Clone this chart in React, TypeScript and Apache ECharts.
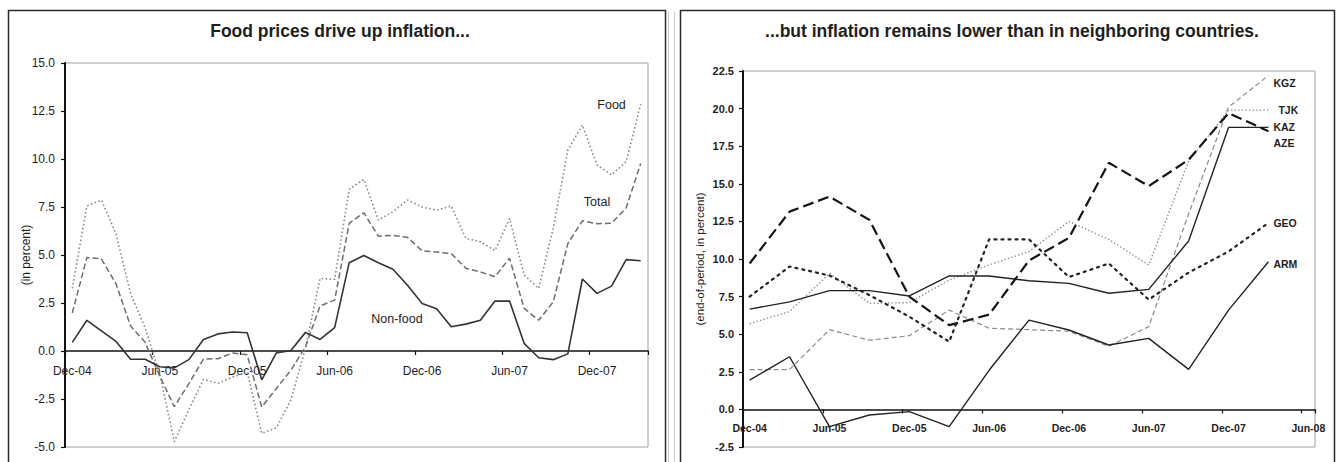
import React, { useEffect, useRef } from "react";
import * as echarts from "echarts";

// ---------- data ----------
const MONTH_NAMES = ["Jan", "Feb", "Mar", "Apr", "May", "Jun", "Jul", "Aug", "Sep", "Oct", "Nov", "Dec"];
function monthLabels(count: number): string[] {
  const out: string[] = [];
  for (let i = 0; i < count; i++) {
    const m = (11 + i) % 12;
    const y = 2004 + Math.floor((11 + i) / 12);
    out.push(`${MONTH_NAMES[m]}-${String(y % 100).padStart(2, "0")}`);
  }
  return out;
}

// Left panel: monthly, Dec-04 .. Mar-08
const leftMonths = monthLabels(40);
const food = [3.26, 7.55, 7.86, 6.1, 3.0, 1.2, -1.2, -4.72, -3.05, -1.48, -1.68, -1.36, -1.1, -4.29, -4.0, -2.55, 0.15, 3.78, 3.73, 8.42, 8.94, 6.82, 7.26, 7.86, 7.5, 7.34, 7.55, 5.87, 5.69, 5.23, 6.9, 3.96, 3.26, 6.4, 10.47, 11.77, 9.69, 9.17, 9.86, 12.86];
const total = [1.98, 4.87, 4.8, 3.5, 1.3, 0.45, -1.3, -2.9, -1.7, -0.42, -0.4, -0.1, -0.2, -2.92, -1.95, -1.0, 0.22, 2.35, 2.65, 6.65, 7.2, 5.98, 6.02, 5.92, 5.22, 5.15, 5.08, 4.31, 4.12, 3.87, 4.83, 2.22, 1.6, 2.56, 5.6, 6.78, 6.63, 6.65, 7.45, 9.77];
const nonFood = [0.45, 1.6, 1.05, 0.5, -0.43, -0.43, -0.82, -0.88, -0.45, 0.6, 0.89, 0.99, 0.95, -1.5, -0.1, 0.03, 0.97, 0.6, 1.22, 4.6, 4.97, 4.6, 4.26, 3.42, 2.48, 2.2, 1.26, 1.4, 1.6, 2.6, 2.6, 0.4, -0.35, -0.45, -0.15, 3.75, 3.0, 3.38, 4.76, 4.7];
const leftTicks = [-5, -2.5, 0, 2.5, 5, 7.5, 10, 12.5, 15];

// Right panel: monthly axis Dec-04 .. Jun-08, quarterly observations
const rightMonths = monthLabels(43);
const quarters = ["Dec-04", "Mar-05", "Jun-05", "Sep-05", "Dec-05", "Mar-06", "Jun-06", "Sep-06", "Dec-06", "Mar-07", "Jun-07", "Sep-07", "Dec-07", "Mar-08"];
const kgz = [2.65, 2.65, 5.3, 4.6, 4.9, 6.6, 5.4, 5.3, 5.2, 4.2, 5.5, 13.0, 20.1, 22.2];
const tjk = [5.7, 6.5, 9.05, 7.05, 7.1, 8.6, 9.6, 10.5, 12.5, 11.3, 9.6, 16.5, 19.9, 19.9];
const kaz = [6.67, 7.15, 7.9, 7.9, 7.54, 8.87, 8.87, 8.55, 8.38, 7.72, 7.98, 11.2, 18.75, 18.75];
const aze = [9.7, 13.15, 14.15, 12.6, 7.5, 5.6, 6.3, 9.9, 11.4, 16.4, 14.85, 16.6, 19.7, 18.5];
const geo = [7.5, 9.5, 8.9, 7.6, 6.17, 4.5, 11.3, 11.3, 8.8, 9.7, 7.3, 9.1, 10.5, 12.4];
const arm = [1.95, 3.5, -1.15, -0.37, -0.15, -1.15, 2.6, 5.94, 5.28, 4.28, 4.72, 2.66, 6.6, 9.82];
const rightTicks = [-2.5, 0, 2.5, 5, 7.5, 10, 12.5, 15, 17.5, 20, 22.5];

// label anchor values (data space)
const leftLabels = [
  { name: "Food", at: "Jan-08", value: 12.8 },
  { name: "Total", at: "Dec-07", value: 7.76 },
  { name: "Non-food", at: "Oct-06", value: 1.67 },
];
const rightLabels = [
  { name: "KGZ", value: 21.72 },
  { name: "TJK", value: 19.9 },
  { name: "KAZ", value: 18.78 },
  { name: "AZE", value: 17.71 },
  { name: "GEO", value: 12.41 },
  { name: "ARM", value: 9.67 },
];

const FONT = "'Liberation Sans', Arial, Helvetica, sans-serif";
const INK = "#1e1e1e";

const LEFT_GRID = { left: 65, top: 63, width: 583, height: 384 };
const RIGHT_GRID = { left: 743, top: 71, width: 572, height: 376 };

function pairs(vals: number[]) {
  return quarters.map((q, i) => [q, vals[i]]);
}

// distance (px) from the bottom of a grid up to the value 0
function zeroOffset(ticks: number[], height: number) {
  const min = ticks[0];
  const max = ticks[ticks.length - 1];
  return ((0 - min) / (max - min)) * height;
}

function markLabel(name: string, at: string, value: number, opts: any) {
  return {
    coord: [at, value],
    symbol: "circle",
    symbolSize: 0,
    itemStyle: { color: "transparent" },
    label: {
      show: true,
      formatter: name,
      color: INK,
      fontFamily: FONT,
      ...opts,
    },
  };
}

export default function App() {
  const ref = useRef<HTMLDivElement>(null);

  useEffect(() => {
    document.body.style.margin = "0";
    if (!ref.current) return;
    const chart = echarts.init(ref.current, undefined, { renderer: "svg" });

    const leftX = {
      gridIndex: 0,
      type: "category",
      data: leftMonths,
      boundaryGap: true,
      offset: -zeroOffset(leftTicks, LEFT_GRID.height),
      axisLine: { onZero: false, lineStyle: { color: "#111", width: 1.5 } },
      axisTick: { show: true, interval: 5, length: 4, lineStyle: { color: "#111", width: 1.2 } },
      axisLabel: { interval: 5, margin: 14, fontSize: 12, color: INK, fontFamily: FONT },
      splitLine: { show: false },
    };
    const rightX = {
      gridIndex: 1,
      type: "category",
      data: rightMonths,
      boundaryGap: true,
      offset: -zeroOffset(rightTicks, RIGHT_GRID.height),
      axisLine: { onZero: false, lineStyle: { color: "#111", width: 1.5 } },
      axisTick: { show: true, interval: 5, length: 4, lineStyle: { color: "#111", width: 1.2 } },
      axisLabel: { interval: 5, margin: 13, fontSize: 10.5, fontWeight: "bold", color: INK, fontFamily: FONT },
      splitLine: { show: false },
    };
    const leftY = {
      gridIndex: 0,
      type: "value",
      min: leftTicks[0],
      max: leftTicks[leftTicks.length - 1],
      interval: 2.5,
      name: "(in percent)",
      nameLocation: "middle",
      nameGap: 33,
      nameMoveOverlap: false,
      nameTextStyle: { fontSize: 12, color: INK, fontFamily: FONT },
      axisLine: { show: true, lineStyle: { color: "#111", width: 2 } },
      axisTick: { show: true, length: 4, lineStyle: { color: "#111", width: 1.2 } },
      axisLabel: { margin: 10, fontSize: 12, color: INK, fontFamily: FONT, formatter: (v: number) => v.toFixed(1) },
      splitLine: { show: false },
    };
    const rightY = {
      gridIndex: 1,
      type: "value",
      min: rightTicks[0],
      max: rightTicks[rightTicks.length - 1],
      interval: 2.5,
      name: "(end-of-period, in percent)",
      nameLocation: "middle",
      nameGap: 37,
      nameMoveOverlap: false,
      nameTextStyle: { fontSize: 11.5, color: INK, fontFamily: FONT },
      axisLine: { show: true, lineStyle: { color: "#111", width: 2 } },
      axisTick: { show: true, length: 4, lineStyle: { color: "#111", width: 1.2 } },
      axisLabel: { margin: 9, fontSize: 11, fontWeight: "bold", color: INK, fontFamily: FONT, formatter: (v: number) => v.toFixed(1) },
      splitLine: { show: false },
    };

    const base = { type: "line", showSymbol: false, symbol: "none", silent: true, z: 3 };

    const option: any = {
      animation: false,
      backgroundColor: "#ffffff",
      title: [
        {
          text: "Food prices drive up inflation...",
          left: 340,
          top: 22,
          textAlign: "center",
          padding: 0,
          textStyle: { fontSize: 17.5, fontWeight: "bold", color: INK, fontFamily: FONT },
        },
        {
          text: "...but inflation remains lower than in neighboring countries.",
          left: 1012,
          top: 22,
          textAlign: "center",
          padding: 0,
          textStyle: { fontSize: 17.5, fontWeight: "bold", color: INK, fontFamily: FONT },
        },
      ],
      grid: [
        { ...LEFT_GRID, show: true, borderColor: "#a0a0a0", borderWidth: 1, backgroundColor: "transparent", outerBoundsMode: "none", containLabel: false },
        { ...RIGHT_GRID, show: true, borderColor: "#a0a0a0", borderWidth: 1, backgroundColor: "transparent", outerBoundsMode: "none", containLabel: false },
      ],
      xAxis: [leftX, rightX],
      yAxis: [leftY, rightY],
      series: [
        {
          ...base,
          name: "Food",
          xAxisIndex: 0,
          yAxisIndex: 0,
          data: food,
          lineStyle: { color: "#8a8a8a", width: 1.6, type: [1.6, 2.4] },
          markPoint: {
            silent: true,
            data: [markLabel(leftLabels[0].name, leftLabels[0].at, leftLabels[0].value, { position: "inside", fontSize: 12.5 })],
          },
        },
        {
          ...base,
          name: "Total",
          xAxisIndex: 0,
          yAxisIndex: 0,
          data: total,
          lineStyle: { color: "#6e6e6e", width: 1.5, type: [6, 3] },
          markPoint: {
            silent: true,
            data: [markLabel(leftLabels[1].name, leftLabels[1].at, leftLabels[1].value, { position: "inside", fontSize: 12.5 })],
          },
        },
        {
          ...base,
          name: "Non-food",
          xAxisIndex: 0,
          yAxisIndex: 0,
          data: nonFood,
          lineStyle: { color: "#333333", width: 1.6 },
          markPoint: {
            silent: true,
            data: [markLabel(leftLabels[2].name, leftLabels[2].at, leftLabels[2].value, { position: "inside", fontSize: 12.5, offset: [4, 0] })],
          },
        },
        {
          ...base,
          name: "KGZ",
          xAxisIndex: 1,
          yAxisIndex: 1,
          data: pairs(kgz),
          lineStyle: { color: "#8a8a8a", width: 1.2, type: [5, 3] },
        },
        {
          ...base,
          name: "TJK",
          xAxisIndex: 1,
          yAxisIndex: 1,
          data: pairs(tjk),
          lineStyle: { color: "#8f8f8f", width: 1.4, type: [1.4, 2.2] },
        },
        {
          ...base,
          name: "KAZ",
          xAxisIndex: 1,
          yAxisIndex: 1,
          data: pairs(kaz),
          lineStyle: { color: "#222222", width: 1.4 },
        },
        {
          ...base,
          name: "AZE",
          xAxisIndex: 1,
          yAxisIndex: 1,
          data: pairs(aze),
          lineStyle: { color: "#151515", width: 2.2, type: [11, 5] },
        },
        {
          ...base,
          name: "GEO",
          xAxisIndex: 1,
          yAxisIndex: 1,
          data: pairs(geo),
          lineStyle: { color: "#222222", width: 2.2, type: [2, 5], cap: "round" },
        },
        {
          ...base,
          name: "ARM",
          xAxisIndex: 1,
          yAxisIndex: 1,
          data: pairs(arm),
          lineStyle: { color: "#222222", width: 1.4 },
          markPoint: {
            silent: true,
            data: rightLabels.map((l) =>
              markLabel(l.name, quarters[quarters.length - 1], l.value, {
                position: "right",
                distance: l.name === "TJK" ? 10 : 5,
                fontSize: 10.5,
                fontWeight: "bold",
              })
            ),
          },
        },
      ],
      graphic: [
        { type: "line", shape: { x1: 668.5, y1: 12, x2: 668.5, y2: 462 }, style: { stroke: "#c8c8c8", lineWidth: 1 }, silent: true },
        { type: "line", shape: { x1: 674.5, y1: 12, x2: 674.5, y2: 462 }, style: { stroke: "#c8c8c8", lineWidth: 1 }, silent: true },
        { type: "rect", shape: { x: 8.5, y: 10.5, width: 657, height: 470 }, style: { fill: "none", stroke: "#2a2a2a", lineWidth: 1.5 }, silent: true },
        { type: "rect", shape: { x: 680.5, y: 10.5, width: 654, height: 470 }, style: { fill: "none", stroke: "#2a2a2a", lineWidth: 1.5 }, silent: true },
      ],
    };

    chart.setOption(option);
    return () => chart.dispose();
  }, []);

  return <div ref={ref} style={{ width: 1344, height: 462 }} />;
}
